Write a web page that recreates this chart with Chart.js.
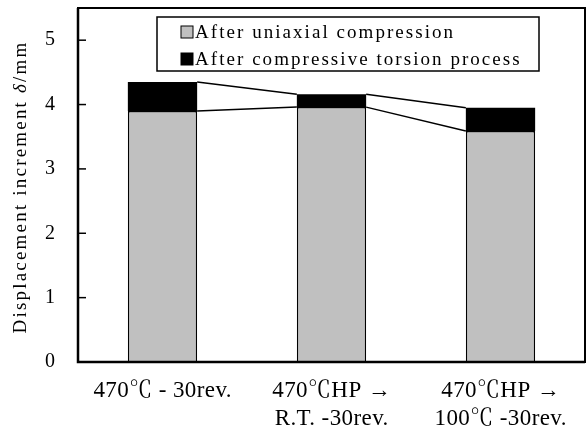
<!DOCTYPE html>
<html>
<head>
<meta charset="utf-8">
<script src="https://cdn.jsdelivr.net/npm/chart.js@4"></script>
<style>
  html, body { margin: 0; padding: 0; background: #fff; }
  #wrap { width: 588px; height: 437px; }
</style>
</head>
<body>
<div id="wrap"><canvas id="dispChart"></canvas></div>
<script>
// ---- data ----
const conditions = [
  ['470℃ - 30rev.'],
  ['470℃HP →', 'R.T. -30rev.'],
  ['470℃HP →', '100℃ -30rev.'],
];
const seriesNames = ['After uniaxial compression', 'After compressive torsion process'];
const afterCompression = [3.90, 3.96, 3.59];
const torsionIncrement = [0.45, 0.20, 0.36];
const yTicks = [0, 1, 2, 3, 4, 5];

const SERIF = '"Liberation Serif", "Noto Serif CJK JP", "Noto Sans CJK JP", serif';

// frame, inward y ticks and the Excel-style series lines between stacked bars
const frameAndLines = {
  id: 'frameAndLines',
  afterDatasetsDraw(chart) {
    const { ctx } = chart;
    ctx.save();
    ctx.strokeStyle = '#000';
    ctx.lineWidth = 1.5;
    chart.data.datasets.forEach((ds, di) => {
      const bars = chart.getDatasetMeta(di).data;
      for (let i = 0; i < bars.length - 1; i++) {
        const a = bars[i], b = bars[i + 1];
        ctx.beginPath();
        ctx.moveTo(a.x + a.width / 2, a.y);
        ctx.lineTo(b.x - b.width / 2, b.y);
        ctx.stroke();
      }
    });
    ctx.restore();
  },
  afterDraw(chart) {
    const { ctx, chartArea: ca, scales } = chart;
    ctx.save();
    ctx.strokeStyle = '#000';
    ctx.lineWidth = 2;
    ctx.strokeRect(ca.left, ca.top, ca.right - ca.left, ca.bottom - ca.top);
    ctx.lineWidth = 2.5;
    ctx.beginPath();
    ctx.moveTo(ca.left, ca.top);
    ctx.lineTo(ca.left, ca.bottom);
    ctx.lineTo(ca.right, ca.bottom);
    ctx.stroke();
    ctx.lineWidth = 1.5;
    yTicks.forEach(v => {
      const y = scales.y.getPixelForValue(v);
      ctx.beginPath();
      ctx.moveTo(ca.left, y);
      ctx.lineTo(ca.left + 8, y);
      ctx.stroke();
    });

    // category labels, one or two lines each
    ctx.fillStyle = '#000';
    ctx.font = '23px ' + SERIF;
    ctx.letterSpacing = '0.4px';
    ctx.textAlign = 'center';
    ctx.textBaseline = 'middle';
    chart.data.labels.forEach((lines, i) => {
      const x = scales.x.getPixelForValue(i);
      lines.forEach((t, k) => ctx.fillText(t, x + 0.2, ca.bottom + 29 + k * 28));
    });
    ctx.restore();

    // axis title with italic delta
    ctx.save();
    ctx.fillStyle = '#000';
    ctx.letterSpacing = '2.2px';
    const parts = [
      ['Displacement increment ', '19px ' + SERIF],
      ['δ', 'italic 19px ' + SERIF],
      ['/mm', '19px ' + SERIF],
    ];
    let total = 0;
    parts.forEach(p => { ctx.font = p[1]; total += ctx.measureText(p[0]).width; });
    ctx.translate(21, 187);
    ctx.rotate(-Math.PI / 2);
    ctx.textBaseline = 'middle';
    let x = -total / 2;
    parts.forEach(p => {
      ctx.font = p[1];
      ctx.fillText(p[0], x, 0);
      x += ctx.measureText(p[0]).width;
    });
    ctx.restore();

    // boxed legend
    ctx.save();
    const lx = ca.left + 79, ly = ca.top + 9, lw = 382, lh = 54;
    ctx.fillStyle = '#fff';
    ctx.fillRect(lx, ly, lw, lh);
    ctx.strokeStyle = '#000';
    ctx.lineWidth = 1.5;
    ctx.strokeRect(lx, ly, lw, lh);
    ctx.font = '19px ' + SERIF;
    ctx.letterSpacing = '2.05px';
    ctx.textBaseline = 'middle';
    chart.data.datasets.forEach((ds, i) => {
      const cy = ly + 15 + i * 27;
      ctx.fillStyle = ds.backgroundColor;
      ctx.fillRect(lx + 24, cy - 6, 12, 12);
      ctx.lineWidth = 1;
      ctx.strokeRect(lx + 24, cy - 6, 12, 12);
      ctx.fillStyle = '#000';
      ctx.fillText(ds.label, lx + 38, cy + 1);
    });
    ctx.restore();
  }
};

new Chart(document.getElementById('dispChart'), {
  type: 'bar',
  data: {
    labels: conditions,
    datasets: [
      {
        label: seriesNames[0],
        data: afterCompression,
        backgroundColor: '#c0c0c0',
        borderColor: '#000',
        borderWidth: 1.5,
        barPercentage: 0.41,
        categoryPercentage: 1,
      },
      {
        label: seriesNames[1],
        data: torsionIncrement,
        backgroundColor: '#000',
        borderColor: '#000',
        borderWidth: 0,
        barPercentage: 0.41,
        categoryPercentage: 1,
      },
    ],
  },
  options: {
    responsive: true,
    maintainAspectRatio: false,
    animation: false,
    layout: { padding: { top: 8, right: 3, left: 0, bottom: 0 } },
    plugins: { legend: { display: false }, tooltip: { enabled: false } },
    scales: {
      x: {
        stacked: true,
        grid: { display: false, drawTicks: false },
        border: { display: false },
        ticks: { display: false },
        afterFit: s => { s.height = 75; s.paddingLeft = 0; s.paddingRight = 0; },
      },
      y: {
        stacked: true,
        min: 0,
        max: 5.5,
        grid: { display: false, drawTicks: false },
        border: { display: false },
        ticks: { color: '#000', stepSize: 1, padding: 23, font: { family: SERIF, size: 20 } },
        afterBuildTicks: s => { s.ticks = s.ticks.filter(t => yTicks.includes(t.value)); },
        afterFit: s => { s.width = 78; s.paddingTop = 0; s.paddingBottom = 0; },
      },
    },
  },
  plugins: [frameAndLines],
});
</script>
</body>
</html>
